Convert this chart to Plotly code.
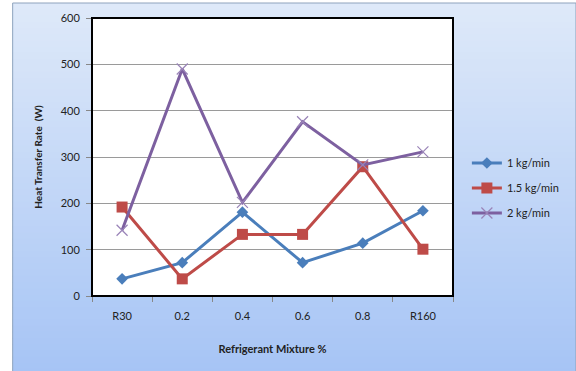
import plotly.graph_objects as go

# Mixture categories and measured heat transfer rates (W)
categories = ["R30", "0.2", "0.4", "0.6", "0.8", "R160"]
flow_1_0 = [37, 72, 181, 72, 114, 184]
flow_1_5 = [192, 37, 133, 133, 279, 101]
flow_2_0 = [142, 490, 202, 376, 283, 311]
y_ticks = [0, 100, 200, 300, 400, 500, 600]

W, H = 576, 371
ML, MR, MT, MB = 92, 120, 18, 75
PW, PH = W - ML - MR, H - MT - MB
FONT = "Lato, 'Open Sans', sans-serif"


def px_x(px):
    """Figure pixel column -> paper x (relative to the plot area)."""
    return (px - ML) / PW


def px_y(py):
    """Figure pixel row -> paper y (relative to the plot area)."""
    return (H - MB - py) / PH


fig = go.Figure()

fig.add_trace(go.Scatter(
    x=categories, y=flow_1_0, name="1 kg/min", mode="lines+markers",
    legendgroup="a",
    line=dict(color="#4a7ebb", width=3),
    marker=dict(symbol="diamond", size=9, color="#4a7ebb"),
))
fig.add_trace(go.Scatter(
    x=categories, y=flow_1_5, name="1.5 kg/min", mode="lines+markers",
    legendgroup="b",
    line=dict(color="#be4b48", width=3),
    marker=dict(symbol="square", size=11, color="#be4b48"),
))
fig.add_trace(go.Scatter(
    x=categories, y=flow_2_0, name="2 kg/min", mode="lines+markers",
    legendgroup="c",
    line=dict(color="#7d60a0", width=3),
    marker=dict(symbol="x-thin", size=11, color="#7d60a0",
                line=dict(color="#9a84b8", width=1.2)),
))

# Vertical gradient background for the chart area, built from thin bands
top_rgb = (222, 233, 249)
bot_rgb = (166, 196, 245)
n_bands = 60
fx0, fx1 = px_x(12), px_x(W + 4)
fy_top, fy_bot = px_y(3), px_y(H + 4)
shapes = []
for i in range(n_bands):
    t = i / (n_bands - 1)
    r = round(top_rgb[0] + (bot_rgb[0] - top_rgb[0]) * t)
    g = round(top_rgb[1] + (bot_rgb[1] - top_rgb[1]) * t)
    b = round(top_rgb[2] + (bot_rgb[2] - top_rgb[2]) * t)
    ya = fy_top - (fy_top - fy_bot) * i / n_bands
    yb = fy_top - (fy_top - fy_bot) * (i + 1) / n_bands
    shapes.append(dict(
        type="rect", xref="paper", yref="paper", layer="below",
        x0=fx0, x1=fx1, y0=yb - 0.004, y1=ya,
        fillcolor=f"rgb({r},{g},{b})", line=dict(width=0),
    ))
# Outer chart frame
shapes.append(dict(
    type="rect", xref="paper", yref="paper", layer="below",
    x0=fx0, x1=fx1, y0=fy_bot, y1=fy_top,
    fillcolor="rgba(0,0,0,0)", line=dict(color="#8ea3bd", width=1),
))
# Plot area: white fill with a black border
shapes.append(dict(
    type="rect", xref="paper", yref="paper", layer="below",
    x0=0, x1=1, y0=0, y1=1, fillcolor="white", line=dict(width=0),
))
shapes.append(dict(
    type="rect", xref="paper", yref="paper", layer="above",
    x0=0, x1=1, y0=0, y1=1, fillcolor="rgba(0,0,0,0)",
    line=dict(color="black", width=2),
))

fig.update_layout(
    width=W, height=H,
    margin=dict(l=ML, r=MR, t=MT, b=MB),
    paper_bgcolor="white",
    plot_bgcolor="rgba(0,0,0,0)",
    font=dict(family=FONT, size=11, color="#222"),
    shapes=shapes,
    showlegend=True,
    legend=dict(
        x=px_x(470), y=px_y(188), xanchor="left", yanchor="middle",
        bgcolor="rgba(0,0,0,0)", font=dict(size=11, color="#222"),
        itemwidth=30, tracegroupgap=6,
    ),
    xaxis=dict(
        type="category", categoryorder="array", categoryarray=categories,
        range=[-0.5, 5.5], showgrid=False, zeroline=False,
        ticks="outside", ticklen=5, tickcolor="#888",
        tickson="boundaries", showline=False, tickfont=dict(size=11),
        ticklabelstandoff=12,
        title=dict(text="<b>Refrigerant Mixture %</b>", standoff=24,
                   font=dict(size=11)),
    ),
    yaxis=dict(
        range=[0, 600], tickvals=y_ticks, showgrid=True,
        gridcolor="#9a9a9a", gridwidth=1, zeroline=False,
        ticks="outside", ticklen=5, tickcolor="#888", showline=False,
        tickfont=dict(size=11), ticklabelstandoff=4,
        title=dict(text="<b>Heat Transfer Rate  (W)</b>", standoff=16,
                   font=dict(size=10)),
    ),
)

fig.write_html("out.html")
